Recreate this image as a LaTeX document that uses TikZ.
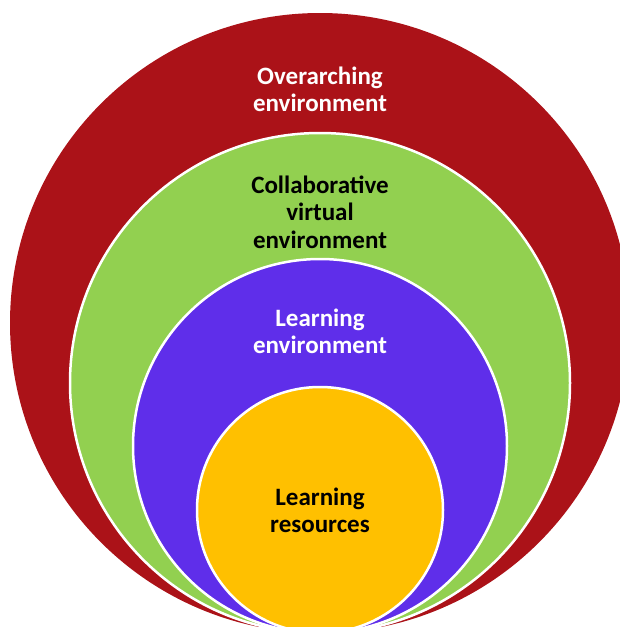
\documentclass[tikz,border=0pt]{standalone}
\usepackage{fontspec}
\setmainfont{Carlito}
\usetikzlibrary{positioning}
\definecolor{ringred}{HTML}{AB1218}
\definecolor{ringgreen}{HTML}{92D050}
\definecolor{ringpurple}{HTML}{5F2EEA}
\definecolor{ringgold}{HTML}{FFC000}
\tikzset{
  ring/.style={circle, draw=white, line width=2.5pt, inner sep=0pt, outer sep=0pt},
  ringtext/.style={align=center, font=\bfseries\fontsize{25}{27.3}\selectfont, inner sep=0pt}
}

\begin{document}
\begin{tikzpicture}[x=1pt,y=-1pt]
  \useasboundingbox (0,0) rectangle (620,627);
  \clip (0,0) rectangle (620,627);
  \node[ring, fill=ringred, draw=none, minimum size=620pt] (overarching) at (320,323) {};
  \node[ring, fill=ringgreen, minimum size=500pt] (collab) at (320,383) {};
  \node[ring, fill=ringpurple, minimum size=374pt] (learnenv) at (320,446) {};
  \node[ring, fill=ringgold, minimum size=246pt] (resources) at (320,510) {};
  \node[ringtext, white] (overtext) at (320,89) {Overarching\\environment};
  \node[ringtext, black] (collabtext) at (320,212) {Collaborative\\virtual\\environment};
  \node[ringtext, white] (learnenvtext) at (320,331) {Learning\\environment};
  \node[ringtext, black] (resourcestext) at (320,510) {Learning\\resources};
\end{tikzpicture}
\end{document}
